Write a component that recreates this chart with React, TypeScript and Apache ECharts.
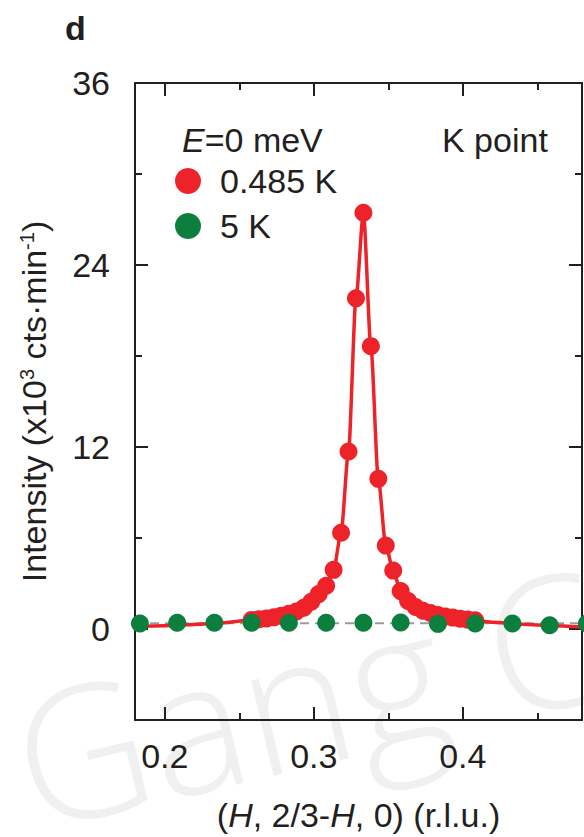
import React, { useEffect, useRef } from "react";
import * as echarts from "echarts";

// ---- data ----
const redH = [0.2583, 0.2633, 0.2683, 0.2733, 0.2783, 0.2833, 0.2883, 0.2933, 0.2983, 0.3033, 0.3083, 0.3133, 0.3183, 0.3233, 0.3283, 0.3333, 0.3383, 0.3433, 0.3483, 0.3533, 0.3583, 0.3633, 0.3683, 0.3733, 0.3783, 0.3833, 0.3883, 0.3933, 0.3983, 0.4033, 0.4083];
const redI = [0.6, 0.65, 0.7, 0.78, 0.88, 1.0, 1.15, 1.4, 1.8, 2.3, 2.85, 3.9, 6.35, 11.7, 21.8, 27.45, 18.65, 9.9, 5.5, 3.85, 2.5, 1.85, 1.45, 1.2, 1.05, 0.92, 0.82, 0.75, 0.68, 0.62, 0.58];
const greenH = [0.1833, 0.2083, 0.2333, 0.2583, 0.2833, 0.3083, 0.3333, 0.3583, 0.3833, 0.4083, 0.4333, 0.4583, 0.4833];
const greenI = [0.36, 0.41, 0.41, 0.41, 0.41, 0.41, 0.41, 0.43, 0.34, 0.36, 0.36, 0.25, 0.36];
const fitTailLeftH = [0.18, 0.2, 0.22, 0.24];
const fitTailLeftI = [0.15, 0.22, 0.3, 0.42];
const fitTailRightH = [0.42, 0.44, 0.46, 0.48];
const fitTailRightI = [0.45, 0.32, 0.22, 0.13];
const baseline5K = 0.38;
const xMajor = [0.2, 0.3, 0.4];
const xMinor = [0.25, 0.35, 0.45];
const yMajor = [0, 12, 24, 36];
const yMinor = [6, 18, 30];
const legendLabels = ["0.485 K", "5 K"];

const RED = "#ee2329";
const GREEN = "#0c7e3e";
const INK = "#231f20";
const FONT = "Liberation Sans, Arial, Helvetica, sans-serif";

export default function App() {
  const ref = useRef<HTMLDivElement>(null);
  useEffect(() => {
    if (!ref.current) return;
    const chart = echarts.init(ref.current, undefined, { renderer: "svg" });
    const xMin = 0.18, xMax = 0.48, yMin = -6, yMax = 36;
    const line = { color: INK, width: 2 };
    const xAx = (pos: string, ticks: number[], len: number, labels: boolean, showLine: boolean, withName: boolean) => ({
      type: "value", position: pos, min: xMin, max: xMax,
      axisLine: { show: showLine, onZero: false, lineStyle: line },
      axisTick: { show: true, inside: true, length: len, lineStyle: line, customValues: ticks },
      axisLabel: labels
        ? { show: true, customValues: ticks, formatter: (v: number) => v.toFixed(1), fontSize: 34, color: INK, fontFamily: FONT, margin: 19 }
        : { show: false },
      splitLine: { show: false },
      ...(withName
        ? {
            name: "({i|H}, 2/3-{i|H}, 0) (r.l.u.)",
            nameLocation: "middle",
            nameGap: 78,
            nameTextStyle: { fontSize: 34, color: INK, fontFamily: FONT, rich: { i: { fontStyle: "italic", fontSize: 34, color: INK, fontFamily: FONT } } },
          }
        : {}),
    });
    const yAx = (pos: string, ticks: number[], len: number, labels: boolean, showLine: boolean, withName: boolean) => ({
      type: "value", position: pos, min: yMin, max: yMax,
      axisLine: { show: showLine, onZero: false, lineStyle: line },
      axisTick: { show: true, inside: true, length: len, lineStyle: line, customValues: ticks },
      axisLabel: labels
        ? { show: true, customValues: ticks, fontSize: 34, color: INK, fontFamily: FONT, margin: 25 }
        : { show: false },
      splitLine: { show: false },
      ...(withName
        ? {
            name: "{a|Intensity (x10}{s|3}{a| cts·min}{s|-1}{a|)}",
            nameLocation: "middle",
            nameGap: 84,
            nameRotate: 90,
            nameTextStyle: {
              fontSize: 34, color: INK, fontFamily: FONT,
              rich: {
                a: { fontSize: 34, color: INK, fontFamily: FONT },
                s: { fontSize: 20, lineHeight: 14, color: INK, fontFamily: FONT, verticalAlign: "top" },
              },
            },
          }
        : {}),
    });

    const fitData = [
      ...fitTailLeftH.map((h, i) => [h, fitTailLeftI[i]]),
      ...redH.map((h, i) => [h, redI[i]]),
      ...fitTailRightH.map((h, i) => [h, fitTailRightI[i]]),
    ];

    chart.setOption({
      animation: false,
      backgroundColor: "#ffffff",
      grid: { left: 135, top: 83, right: 2, bottom: 115, containLabel: false },
      xAxis: [
        xAx("bottom", xMajor, 13, true, true, true),
        xAx("bottom", xMinor, 7, false, false, false),
        xAx("top", xMajor, 13, false, true, false),
        xAx("top", xMinor, 7, false, false, false),
      ],
      yAxis: [
        yAx("left", yMajor, 13, true, true, true),
        yAx("left", yMinor, 7, false, false, false),
        yAx("right", yMajor, 13, false, true, false),
        yAx("right", yMinor, 7, false, false, false),
      ],
      series: [
        {
          name: "5 K baseline", type: "line", symbol: "none", silent: true,
          data: [[xMin, baseline5K], [xMax, baseline5K]],
          lineStyle: { color: "#9a9a9a", width: 2, type: [9, 6] },
          z: 1,
        },
        {
          name: "fit", type: "line", symbol: "none", silent: true, smooth: 0.25, smoothMonotone: "x",
          data: fitData,
          lineStyle: { color: RED, width: 3.5 },
          z: 2,
        },
        {
          name: legendLabels[0], type: "scatter", symbol: "circle", symbolSize: 18,
          data: redH.map((h, i) => [h, redI[i]]),
          itemStyle: { color: RED, opacity: 1 },
          z: 3,
        },
        {
          name: legendLabels[1], type: "scatter", symbol: "circle", symbolSize: 18, clip: false,
          data: greenH.map((h, i) => [h, greenI[i]]),
          itemStyle: { color: GREEN, opacity: 1 },
          z: 4,
        },
      ],
      graphic: [
        {
          type: "text", x: 38, y: 852, rotation: 0.23, z: -10, silent: true,
          style: { text: "Gang C", fontSize: 184, fontFamily: "Open Sans", fontWeight: 300, fill: "#f0f0f0", verticalAlign: "bottom" },
        },
        { type: "text", x: 65, y: 28, style: { text: "d", fontSize: 34, fontWeight: "bold", fontFamily: FONT, fill: INK, verticalAlign: "middle" } },
        {
          type: "text", x: 182, y: 140,
          style: {
            text: "{i|E}{n|=0 meV}", verticalAlign: "middle",
            rich: {
              i: { fontStyle: "italic", fontSize: 34, fontFamily: FONT, fill: INK },
              n: { fontSize: 34, fontFamily: FONT, fill: INK },
            },
          },
        },
        { type: "text", x: 442, y: 140, style: { text: "K point", fontSize: 34, fontFamily: FONT, fill: INK, verticalAlign: "middle" } },
        { type: "circle", shape: { cx: 188, cy: 181, r: 13 }, style: { fill: RED } },
        { type: "text", x: 220, y: 181, style: { text: legendLabels[0], fontSize: 34, fontFamily: FONT, fill: INK, verticalAlign: "middle" } },
        { type: "circle", shape: { cx: 188, cy: 226, r: 13 }, style: { fill: GREEN } },
        { type: "text", x: 220, y: 226, style: { text: legendLabels[1], fontSize: 34, fontFamily: FONT, fill: INK, verticalAlign: "middle" } },
      ],
    });
    return () => chart.dispose();
  }, []);
  return <div ref={ref} style={{ position: "fixed", left: 0, top: 0, width: 584, height: 837 }} />;
}
